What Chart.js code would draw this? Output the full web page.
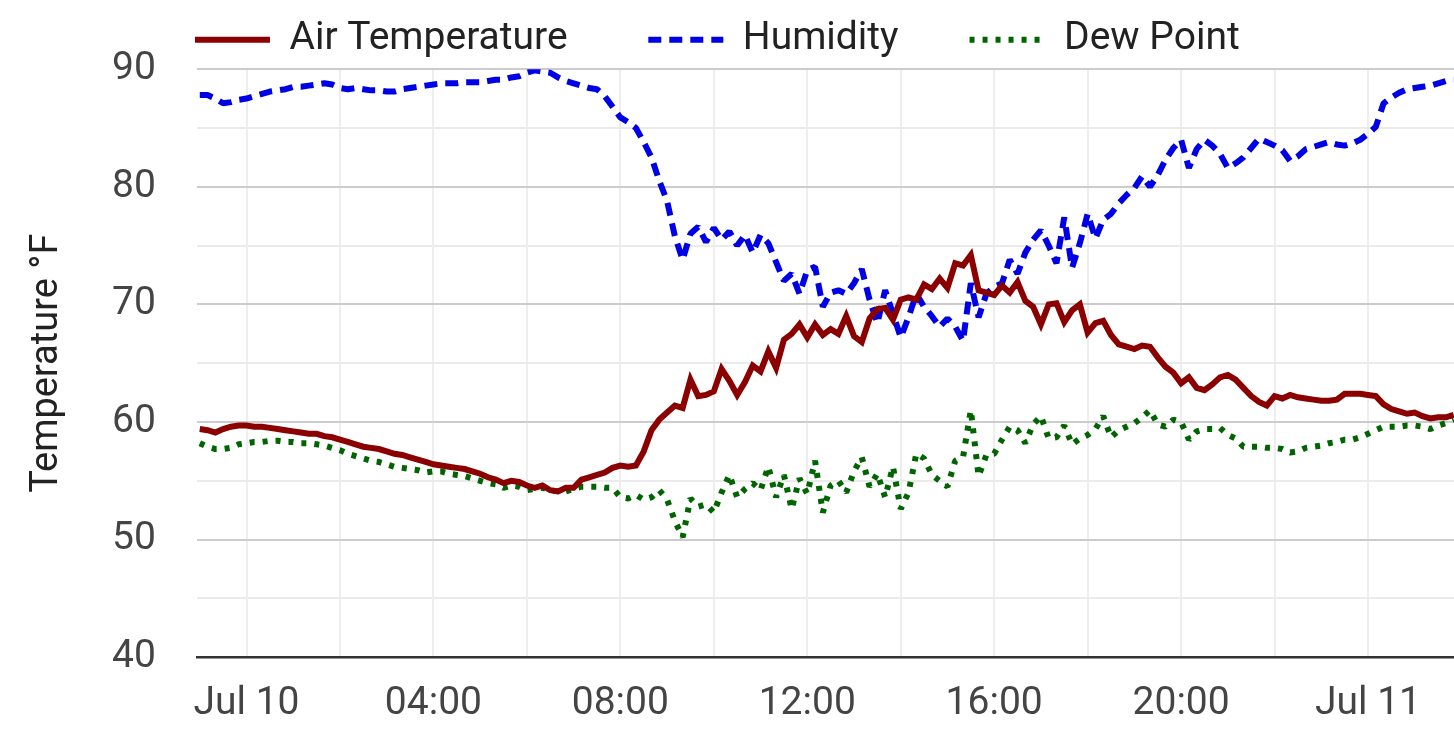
<!DOCTYPE html>
<html>
<head>
<meta charset="utf-8">
<title>Temperature, Humidity and Dew Point</title>
<script src="https://cdn.jsdelivr.net/npm/chart.js@4/dist/chart.umd.min.js"></script>
<style>
  html, body { margin: 0; padding: 0; background: #fff; overflow: hidden; }
  /* a little taller than the window so the x axis band ends at the window edge */
  #wrap { position: relative; width: 1454px; height: 752px; }
</style>
</head>
<body>
<div id="wrap"><canvas id="weatherChart"></canvas></div>
<script>
// ==========================================
// DATA (10-minute readings, Jul 9 23:00 -> Jul 11 01:50)
// ==========================================
const START_HOUR = -1; // hours relative to Jul 10 00:00
const STEP_HOURS = 1 / 6;

const airTemp = [
  59.4, 59.3, 59.1, 59.4, 59.6, 59.7, 59.7, 59.6, 59.6, 59.5, 59.4, 59.3,
  59.2, 59.1, 59.0, 59.0, 58.8, 58.7, 58.5, 58.3, 58.1, 57.9, 57.8, 57.7,
  57.5, 57.3, 57.2, 57.0, 56.8, 56.6, 56.4, 56.3, 56.2, 56.1, 56.0, 55.8,
  55.6, 55.3, 55.1, 54.8, 55.0, 54.9, 54.6, 54.4, 54.6, 54.2, 54.1, 54.4,
  54.4, 55.1, 55.3, 55.5, 55.7, 56.1, 56.3, 56.2, 56.3, 57.5, 59.3, 60.2,
  60.8, 61.4, 61.2, 63.6, 62.2, 62.3, 62.6, 64.5, 63.5, 62.3, 63.4, 64.8,
  64.3, 66.0, 64.6, 67.0, 67.5, 68.3, 67.2, 68.3, 67.4, 67.9, 67.5, 69.0,
  67.3, 66.8, 68.8, 69.6, 69.7, 68.7, 70.4, 70.6, 70.4, 71.7, 71.3, 72.2,
  71.4, 73.5, 73.3, 74.2, 71.2, 71.0, 70.8, 71.6, 71.0, 71.9, 70.3, 69.8,
  68.3, 70.0, 70.1, 68.5, 69.5, 70.0, 67.6, 68.4, 68.6, 67.4, 66.6, 66.4,
  66.2, 66.5, 66.4, 65.5, 64.7, 64.2, 63.3, 63.8, 62.9, 62.7, 63.2, 63.8,
  64.0, 63.6, 62.9, 62.2, 61.7, 61.4, 62.2, 62.0, 62.3, 62.1, 62.0, 61.9,
  61.8, 61.8, 61.9, 62.4, 62.4, 62.4, 62.3, 62.2, 61.5, 61.1, 60.9, 60.7,
  60.8, 60.5, 60.3, 60.4, 60.4, 60.6,
];

const humidity = [
  87.8, 87.8, 87.5, 87.1, 87.2, 87.4, 87.5, 87.7, 87.9, 88.1, 88.2, 88.3,
  88.5, 88.5, 88.6, 88.7, 88.8, 88.7, 88.4, 88.3, 88.4, 88.3, 88.2, 88.2,
  88.1, 88.1, 88.3, 88.4, 88.5, 88.6, 88.7, 88.8, 88.8, 88.8, 88.9, 88.9,
  88.9, 89.0, 89.1, 89.1, 89.3, 89.4, 89.7, 89.9, 89.8, 89.7, 89.3, 89.0,
  88.8, 88.6, 88.4, 88.3, 87.7, 86.8, 85.9, 85.5, 85.0, 83.8, 82.5, 80.5,
  78.8, 75.8, 73.8, 76.0, 76.6, 75.3, 76.5, 75.5, 76.2, 75.0, 75.9, 74.4,
  75.9, 75.2, 73.6, 72.0, 72.6, 70.9, 72.9, 73.2, 69.8, 71.0, 71.2, 70.9,
  71.8, 73.0, 70.4, 68.4, 71.2, 69.2, 67.2, 68.9, 70.9, 69.8, 69.0, 68.1,
  68.8, 68.1, 66.9, 71.8, 68.9, 70.9, 71.5, 71.8, 73.8, 72.6, 74.4, 75.5,
  76.3, 75.0, 73.5, 77.4, 73.1, 75.2, 77.7, 75.6, 77.2, 77.7, 78.6, 79.3,
  79.9, 80.9, 80.0, 81.0, 82.3, 83.3, 84.0, 81.6, 83.2, 84.0, 83.5, 82.8,
  81.6, 82.0, 82.5, 83.3, 84.1, 83.8, 83.5, 83.1, 82.2, 82.6, 83.2, 83.4,
  83.6, 83.8, 83.6, 83.5, 83.7, 84.0, 84.5, 85.1, 87.1, 87.6, 88.0, 88.3,
  88.4, 88.5, 88.6, 88.8, 89.0, 89.1,
];

const dewPoint = [
  58.2, 57.9, 57.7, 57.7, 57.8, 58.1, 58.2, 58.3, 58.3, 58.4, 58.4, 58.3,
  58.3, 58.2, 58.2, 58.1, 58.0, 57.8, 57.6, 57.3, 57.1, 56.9, 56.7, 56.6,
  56.4, 56.2, 56.1, 56.0, 55.9, 55.7, 55.8, 55.8, 55.6, 55.5, 55.4, 55.2,
  55.0, 54.8, 54.7, 54.4, 54.6, 54.5, 54.2, 54.3, 54.4, 54.2, 54.1, 54.1,
  54.3, 54.5, 54.5, 54.5, 54.4, 54.4, 53.6, 53.5, 53.8, 53.4, 53.6, 54.2,
  53.4, 51.6, 50.2, 53.5, 52.8, 53.0, 52.3, 54.0, 55.5, 53.6, 54.3, 54.8,
  54.2, 56.2, 53.6, 55.5, 52.6, 55.2, 53.9, 56.7, 52.3, 54.6, 55.0, 54.0,
  55.8, 57.0, 54.5, 55.6, 53.6, 56.2, 52.6, 54.0, 57.3, 56.9, 55.5, 55.0,
  54.5, 56.7, 57.0, 61.0, 55.4, 57.2, 57.3, 58.5, 59.6, 59.3, 58.2, 59.8,
  60.5, 58.6, 58.7, 59.7, 58.1, 58.6, 58.9, 59.4, 60.5, 58.7, 59.3, 59.6,
  59.9, 60.4, 61.0, 59.8, 59.6, 60.2, 60.0, 58.5, 59.2, 59.4, 59.4, 59.5,
  58.9, 58.6, 57.9, 57.9, 57.9, 57.8, 57.8, 57.7, 57.4, 57.5, 57.8, 57.9,
  58.0, 58.2, 58.3, 58.5, 58.5, 58.7, 59.0, 59.3, 59.6, 59.6, 59.6, 59.7,
  59.7, 59.6, 59.4, 59.7, 59.9, 60.2,
];

// x tick positions (hours from Jul 10 00:00) and their labels
const xTickHours = [0, 2, 4, 6, 8, 10, 12, 14, 16, 18, 20, 22, 24];
const xTickLabels = ['Jul 10', '', '04:00', '', '08:00', '', '12:00', '', '16:00', '', '20:00', '', 'Jul 11'];

const timeHours = airTemp.map((_, i) => START_HOUR + i * STEP_HOURS);

// ==========================================
// CHART
// ==========================================
Chart.defaults.font.family = 'Roboto, "Noto Sans", sans-serif';

// trailing spaces used to space the legend entries like the original
const legendGaps = ['       ', '      ', '  '];

const weatherData = {
  labels: timeHours,
  datasets: [
    {
      label: 'Air Temperature',
      data: airTemp,
      borderColor: '#8b0000',
      backgroundColor: '#8b0000',
      borderWidth: 6,
      borderJoinStyle: 'miter',
    },
    {
      label: 'Humidity',
      data: humidity,
      borderColor: '#0000e6',
      backgroundColor: '#0000e6',
      borderWidth: 6,
      borderDash: [13, 8],
      borderJoinStyle: 'bevel',
    },
    {
      label: 'Dew Point',
      data: dewPoint,
      borderColor: '#006400',
      backgroundColor: '#006400',
      borderWidth: 6,
      borderDash: [5, 8],
      borderJoinStyle: 'bevel',
    },
  ],
};

const weatherConfig = {
  type: 'line',
  data: weatherData,
  options: {
    responsive: true,
    maintainAspectRatio: false,
    devicePixelRatio: 1,
    animation: false,
    layout: { padding: { top: -3, left: 0, right: 0, bottom: 0 } },
    elements: {
      point: { radius: 0 },
      line: { tension: 0 },
    },
    plugins: {
      tooltip: { enabled: false },
      legend: {
        display: true,
        position: 'top',
        labels: {
          font: { size: 39 },
          color: '#222',
          padding: 13,
          usePointStyle: true,
          pointStyleWidth: 75,
          generateLabels: function (chart) {
            return chart.data.datasets.map((ds, i) => ({
              text: ds.label + legendGaps[i],
              fillStyle: ds.borderColor,
              strokeStyle: ds.borderColor,
              fontColor: '#222',
              lineWidth: ds.borderWidth,
              lineDash: ds.borderDash || [],
              pointStyle: 'line',
              hidden: false,
              datasetIndex: i,
            }));
          },
        },
      },
    },
    scales: {
      x: {
        type: 'linear',
        min: -1.05,
        max: 25.84,
        afterBuildTicks: function (axis) {
          axis.ticks = xTickHours.map((h) => ({ value: h }));
        },
        ticks: {
          autoSkip: false,
          maxRotation: 0,
          padding: 24,
          color: '#444',
          font: { size: 39 },
          callback: function (value) {
            const idx = xTickHours.indexOf(value);
            return idx >= 0 ? xTickLabels[idx] : '';
          },
        },
        grid: { color: '#eeeeee', lineWidth: 2, drawTicks: false },
        border: { display: true, color: '#333', width: 2.5 },
      },
      y: {
        min: 40,
        max: 90,
        ticks: {
          stepSize: 5,
          padding: 41.5,
          color: '#444',
          font: { size: 39, lineHeight: 1.42 },
          callback: function (value) {
            return value % 10 === 0 ? value : '';
          },
        },
        grid: {
          drawTicks: false,
          lineWidth: 2,
          color: function (ctx) {
            return ctx.tick && ctx.tick.value % 10 === 0 ? '#cccccc' : '#ebebeb';
          },
        },
        border: { display: false },
        title: {
          display: true,
          text: 'Temperature °F',
          color: '#222',
          font: { size: 38 },
          padding: { top: 25, bottom: 0 },
        },
      },
    },
  },
};

const weatherChart = new Chart(
  document.getElementById('weatherChart'),
  weatherConfig
);
</script>
</body>
</html>
